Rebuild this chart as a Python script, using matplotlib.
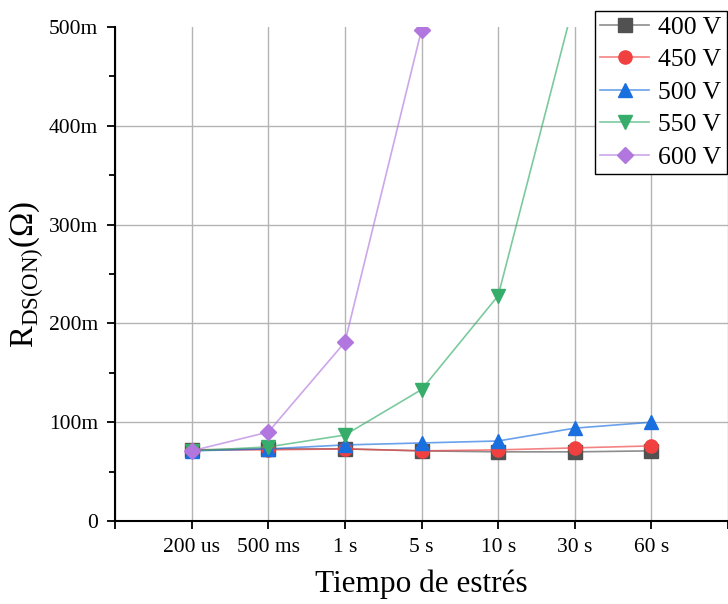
import matplotlib
matplotlib.use("Agg")
import matplotlib.pyplot as plt
from matplotlib.colors import to_rgba
from matplotlib.ticker import MultipleLocator, FixedLocator

plt.rcParams['font.family'] = ['Liberation Serif', 'DejaVu Serif']
plt.rcParams['mathtext.fontset'] = 'custom'
plt.rcParams['mathtext.rm'] = 'Liberation Serif'

# stress time categories
times = ['200 us', '500 ms', '1 s', '5 s', '10 s', '30 s', '60 s']

# R_DS(ON) in milliohms per stress voltage
r_400 = [72, 73, 73, 71, 70, 70, 71]
r_450 = [72, 72, 73, 71, 72, 74, 76]
r_500 = [71, 73, 77, 79, 81, 94, 100]
r_550 = [71, 75, 87, 133, 228, 528, 800]
r_600 = [71, 90, 181, 497, 900, 1200, 1500]

series = [
    ('400 V', r_400, '#515151', 's'),
    ('450 V', r_450, '#F14040', 'o'),
    ('500 V', r_500, '#1A6FDF', '^'),
    ('550 V', r_550, '#37AD6B', 'v'),
    ('600 V', r_600, '#B177DE', 'D'),
]

fig = plt.figure(figsize=(7.28, 6.04), dpi=100)
ax = fig.add_axes([0.158, 0.1374, 0.842, 0.8179])

x = list(range(len(times)))
for label, vals, color, marker in series:
    ms = 8 if marker == 'D' else 9.5
    ax.plot(x, vals, color=to_rgba(color, 0.65), linewidth=1.2,
            marker=marker, markersize=ms, markerfacecolor=color,
            markeredgecolor=color, label=label, zorder=3)

ax.set_xlim(-1, 7)
ax.set_ylim(0, 500)

ax.xaxis.set_major_locator(FixedLocator(list(range(-1, 8))))
ax.set_xticklabels([''] + times + [''])
ax.set_yticks(range(0, 501, 100))
ax.set_yticklabels(['0'] + ['%dm' % v for v in range(100, 501, 100)])
ax.yaxis.set_minor_locator(MultipleLocator(50))

ax.tick_params(axis='both', which='major', direction='out', length=6,
               width=1.3, labelsize=15.5, pad=6)
ax.tick_params(axis='y', which='minor', direction='out', length=4, width=1.3)

ax.grid(True, which='major', color='#b4b4b4', linewidth=1.0, zorder=0)
ax.set_axisbelow(True)
ax.get_ygridlines()[-1].set_visible(False)
ax.get_ygridlines()[0].set_visible(False)

for side in ['top', 'right']:
    ax.spines[side].set_visible(False)
for side in ['left', 'bottom']:
    ax.spines[side].set_linewidth(1.5)

ax.set_xlabel('Tiempo de estrés', fontsize=22.5, labelpad=9)
ax.set_ylabel(r'R$_\mathregular{DS(ON)}$(Ω)', fontsize=23.5, labelpad=2)

leg = ax.legend(loc='upper right', bbox_to_anchor=(0.998, 0.982),
                bbox_transform=fig.transFigure, fontsize=18.5,
                frameon=True, fancybox=False, edgecolor='black',
                handlelength=1.9, handletextpad=0.35, borderpad=0.2,
                labelspacing=0.37, borderaxespad=0, framealpha=1)
leg.get_frame().set_linewidth(1.0)
leg.set_zorder(10)

fig.savefig('out.png', dpi=100)
